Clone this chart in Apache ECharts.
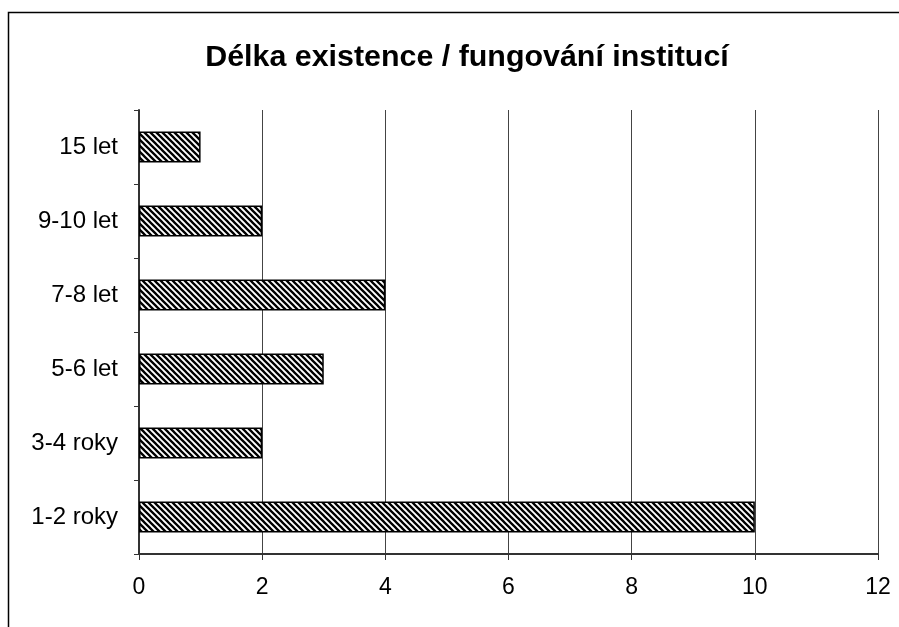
<!DOCTYPE html>
<html>
<head>
<meta charset="utf-8">
<script src="https://cdn.jsdelivr.net/npm/echarts@6/dist/echarts.min.js"></script>
<style>
html, body { margin: 0; padding: 0; background: #fff; }
#chart { width: 899px; height: 627px; }
</style>
</head>
<body>
<div id="chart"></div>
<script>
// data
var categories = ['1-2 roky', '3-4 roky', '5-6 let', '7-8 let', '9-10 let', '15 let'];
var counts = [10, 2, 3, 4, 2, 1];

var chart = echarts.init(document.getElementById('chart'));

// diagonal hatch fill  (\\\)
function hatch() {
    var c = document.createElement('canvas');
    c.width = 6; c.height = 6;
    var ctx = c.getContext('2d');
    ctx.fillStyle = '#fff';
    ctx.fillRect(0, 0, 6, 6);
    ctx.strokeStyle = '#000';
    ctx.lineWidth = 2.3;
    ctx.beginPath();
    ctx.moveTo(-1, -1); ctx.lineTo(7, 7);
    ctx.moveTo(-4, 2); ctx.lineTo(4, 10);
    ctx.moveTo(2, -4); ctx.lineTo(10, 4);
    ctx.stroke();
    return c;
}

var option = {
    animation: false,
    backgroundColor: '#fff',
    title: {
        text: 'Délka existence / fungování institucí',
        left: 462,
        textAlign: 'center',
        top: 38,
        textStyle: {
            fontFamily: 'Liberation Sans, Arial',
            fontSize: 30.4,
            fontWeight: 'bold',
            color: '#000'
        }
    },
    grid: { left: 139, right: 21, top: 110, bottom: 73 },
    xAxis: {
        type: 'value',
        min: 0,
        max: 12,
        interval: 2,
        axisLine: { show: true, lineStyle: { color: '#333', width: 2 } },
        axisTick: { show: true, length: 6, lineStyle: { color: '#333' } },
        axisLabel: {
            margin: 22,
            fontFamily: 'Liberation Sans, Arial',
            fontSize: 23,
            color: '#000'
        },
        splitLine: { show: true, lineStyle: { color: '#444', width: 1 } }
    },
    yAxis: {
        type: 'category',
        data: categories,
        axisLine: { show: true, lineStyle: { color: '#333', width: 2 } },
        axisTick: { show: true, length: 5, lineStyle: { color: '#333' } },
        axisLabel: {
            margin: 21,
            fontFamily: 'Liberation Sans, Arial',
            fontSize: 24,
            color: '#000'
        }
    },
    series: [{
        type: 'bar',
        data: counts,
        barWidth: 31,
        itemStyle: {
            color: { image: hatch(), repeat: 'repeat' },
            borderColor: '#000',
            borderWidth: 1.5
        }
    }],
    graphic: [{
        type: 'rect',
        shape: { x: 8.5, y: 12.5, width: 1000, height: 1000 },
        style: { fill: 'none', stroke: '#000', lineWidth: 1.5 },
        silent: true
    }]
};

chart.setOption(option);
window.onresize = chart.resize;
</script>
</body>
</html>
